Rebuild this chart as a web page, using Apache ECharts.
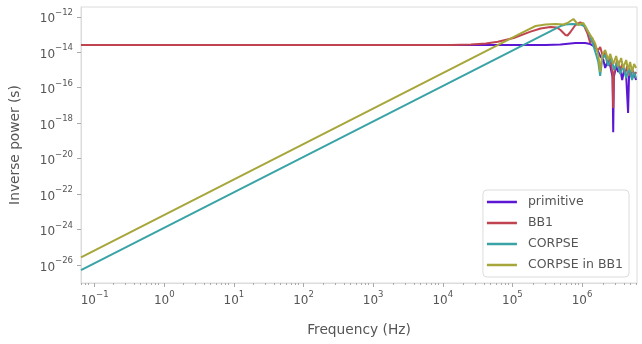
<!DOCTYPE html>
<html>
<head>
<meta charset="utf-8">
<script src="https://cdn.jsdelivr.net/npm/echarts@6/dist/echarts.min.js"></script>
<style>
  html, body { margin: 0; padding: 0; background: #fff; }
  #chart { width: 642px; height: 344px; }
</style>
</head>
<body>
<div id="chart"></div>
<script>
// Frequency (Hz) / inverse power (s) pairs for each pulse sequence
const primitive = [
  [0.0637, 2.56e-14], [3.0e5, 2.56e-14], [4.9e5, 2.7e-14], [8.0e5, 3.3e-14],
  [1.11e6, 3.3e-14], [1.31e6, 2.9e-14], [1.55e6, 1.98e-14], [1.71e6, 1.03e-14],
  [1.82e6, 6.1e-15], [2.02e6, 3.65e-15], [2.15e6, 1.29e-15], [2.30e6, 2.8e-15],
  [2.54e6, 1.67e-15], [2.74e6, 4.0e-16], [2.80e6, 3.1e-19], [2.86e6, 4.0e-16],
  [3.09e6, 1.67e-15], [3.30e6, 7.7e-16], [3.52e6, 1.29e-15], [3.77e6, 2.7e-16],
  [4.02e6, 1.0e-15], [4.30e6, 4.6e-16], [4.46e6, 4.0e-16], [4.58e6, 3.7e-18],
  [4.72e6, 4.0e-16], [4.90e6, 7.7e-16], [5.23e6, 3.5e-16], [5.58e6, 5.9e-16],
  [5.97e6, 2.7e-16]
];
const bb1 = [
  [0.0637, 2.56e-14], [1.31e4, 2.56e-14], [2.54e4, 2.7e-14], [4.15e4, 3.1e-14],
  [6.17e4, 3.9e-14], [1.04e5, 6.4e-14], [1.82e5, 1.45e-13], [2.54e5, 2.2e-13],
  [3.52e5, 2.66e-13], [4.3e5, 2.5e-13], [4.9e5, 1.8e-13], [5.77e5, 9.4e-14],
  [6.17e5, 8.8e-14], [6.81e5, 1.39e-13], [8.02e5, 3.44e-13], [9.46e5, 4.8e-13],
  [1.04e6, 3.93e-13], [1.19e6, 1.22e-13], [1.31e6, 3.3e-14], [1.40e6, 6.4e-14],
  [1.55e6, 1.73e-14], [1.71e6, 1.34e-14], [1.82e6, 1.98e-14], [2.02e6, 4.7e-15],
  [2.15e6, 1.03e-14], [2.37e6, 2.8e-15], [2.54e6, 4.7e-15], [2.74e6, 6.0e-16],
  [2.80e6, 7.1e-18], [2.86e6, 6.0e-16], [3.19e6, 3.65e-15], [3.52e6, 1.0e-15],
  [3.77e6, 2.17e-15], [4.15e6, 5.9e-16], [4.44e6, 1.67e-15], [4.90e6, 4.6e-16],
  [5.23e6, 1.29e-15], [5.58e6, 4.6e-16], [5.97e6, 7.7e-16]
];
const corpse = [
  [0.0637, 5.1e-27], [4.9e5, 3.0e-13], [5.77e5, 3.7e-13], [7.27e5, 3.93e-13],
  [9.46e5, 3.7e-13], [1.08e6, 3.03e-13], [1.23e6, 1.39e-13], [1.40e6, 3.8e-14],
  [1.60e6, 7.0e-15], [1.71e6, 2.8e-15], [1.82e6, 4.6e-16], [1.95e6, 4.7e-15],
  [2.15e6, 7.0e-15], [2.37e6, 1.67e-15], [2.62e6, 4.7e-15], [2.89e6, 1.0e-15],
  [3.19e6, 2.8e-15], [3.52e6, 5.9e-16], [3.89e6, 1.67e-15], [4.30e6, 3.5e-16],
  [4.74e6, 1.29e-15], [5.23e6, 2.7e-16], [5.58e6, 7.7e-16], [5.97e6, 3.5e-16]
];
const corpseInBb1 = [
  [0.0637, 2.68e-26], [1.5e5, 1.49e-13], [2.15e5, 3.03e-13], [2.99e5, 3.7e-13],
  [4.15e5, 3.93e-13], [5.41e5, 3.7e-13], [6.17e5, 4.47e-13], [6.81e5, 5.8e-13],
  [7.51e5, 7.5e-13], [8.02e5, 6.6e-13], [8.85e5, 3.44e-13], [9.46e5, 3.93e-13],
  [1.04e6, 4.47e-13], [1.11e6, 3.03e-13], [1.23e6, 1.39e-13], [1.40e6, 6.4e-14],
  [1.55e6, 2.9e-14], [1.71e6, 7.0e-15], [1.82e6, 7.7e-16], [1.95e6, 7.0e-15],
  [2.15e6, 1.34e-14], [2.37e6, 3.65e-15], [2.54e6, 8.0e-15], [2.80e6, 2.17e-15],
  [3.09e6, 6.1e-15], [3.30e6, 1.67e-15], [3.64e6, 4.7e-15], [3.89e6, 1.29e-15],
  [4.30e6, 3.65e-15], [4.58e6, 1.0e-15], [4.90e6, 2.8e-15], [5.23e6, 7.7e-16],
  [5.58e6, 2.17e-15], [5.97e6, 1.29e-15]
];

const seriesNames = ['primitive', 'BB1', 'CORPSE', 'CORPSE in BB1'];
const seriesColors = ['#5b17d2', '#c0444f', '#3aa3a6', '#a7a63a'];

// Axis ranges and labelled ticks
const freqMin = 0.0637, freqMax = 6.15e6;
const powerMin = 9.5e-28, powerMax = 3.57e-12;
const freqTicks = [0.1, 1, 10, 100, 1e3, 1e4, 1e5, 1e6];
const powerTicks = [1e-26, 1e-24, 1e-22, 1e-20, 1e-18, 1e-16, 1e-14, 1e-12];

// Minor ticks at 2..9 times each decade inside the frequency range
const freqMinorTicks = [];
for (let e = -2; e <= 6; e++) {
  for (let k = 2; k <= 9; k++) {
    const v = k * Math.pow(10, e);
    if (v > freqMin && v < freqMax) freqMinorTicks.push(v);
  }
}

const FONT = 'DejaVu Sans';
const TEXT = '#555';
const SPINE = '#dcdcdc';
const TICK = '#aaa';

function powLabel(v) {
  const e = Math.round(Math.log10(v));
  const s = e < 0 ? '\u2212' + (-e) : String(e);
  return '{b|10}{s|' + s + '}';
}
const labelRich = {
  b: { fontSize: 12, fontFamily: FONT, color: TEXT, verticalAlign: 'bottom', lineHeight: 17 },
  s: { fontSize: 8.5, fontFamily: FONT, color: TEXT, verticalAlign: 'top', lineHeight: 10 }
};

const gridRect = { left: 78, right: 5, top: 7, bottom: 61 };

const chart = echarts.init(document.getElementById('chart'), null, { renderer: 'canvas' });
chart.setOption({
  backgroundColor: '#fff',
  animation: false,
  grid: [
    Object.assign({ show: true, borderColor: SPINE, borderWidth: 1, backgroundColor: '#fff' }, gridRect),
    Object.assign({ show: false }, gridRect)
  ],
  xAxis: [
    {
      type: 'log', gridIndex: 0, logBase: 10, min: freqMin, max: freqMax,
      name: 'Frequency (Hz)', nameLocation: 'middle', nameGap: 40,
      nameTextStyle: { fontSize: 13.75, fontFamily: FONT, color: TEXT },
      axisLine: { lineStyle: { color: SPINE } },
      axisTick: { customValues: freqTicks, length: 4, lineStyle: { color: TICK } },
      axisLabel: { customValues: freqTicks, formatter: powLabel, rich: labelRich, margin: 7 },
      splitLine: { show: false }, minorTick: { show: false }
    },
    {
      type: 'log', gridIndex: 1, logBase: 10, min: freqMin, max: freqMax,
      axisLine: { show: false },
      axisTick: { customValues: freqMinorTicks, length: 2, lineStyle: { color: TICK } },
      axisLabel: { show: false },
      splitLine: { show: false }
    }
  ],
  yAxis: [
    {
      type: 'log', gridIndex: 0, logBase: 10, min: powerMin, max: powerMax,
      name: 'Inverse power (s)', nameLocation: 'middle', nameGap: 59,
      nameTextStyle: { fontSize: 13.75, fontFamily: FONT, color: TEXT },
      axisLine: { show: true, lineStyle: { color: SPINE } },
      axisTick: { show: true, customValues: powerTicks, length: 4, lineStyle: { color: TICK } },
      axisLabel: { customValues: powerTicks, formatter: powLabel, rich: labelRich, margin: 8 },
      splitLine: { show: false }, minorTick: { show: false }
    },
    {
      type: 'log', gridIndex: 1, logBase: 10, min: powerMin, max: powerMax, show: false
    }
  ],
  legend: {
    orient: 'vertical', right: 13, top: 190,
    backgroundColor: '#fff', borderColor: '#dcdcdc', borderWidth: 1, borderRadius: 4,
    padding: [5, 6, 5, 4], itemGap: 7, itemWidth: 30, itemHeight: 2.5, icon: 'rect',
    textStyle: { fontSize: 12.5, fontFamily: FONT, color: TEXT, lineHeight: 14, padding: [0, 0, 0, 6] },
    data: seriesNames
  },
  series: [primitive, bb1, corpse, corpseInBb1].map((d, i) => ({
    name: seriesNames[i], type: 'line', xAxisIndex: 0, yAxisIndex: 0,
    data: d, showSymbol: false, symbol: 'none',
    color: seriesColors[i],
    lineStyle: { width: 2, color: seriesColors[i] }
  }))
});
</script>
</body>
</html>
